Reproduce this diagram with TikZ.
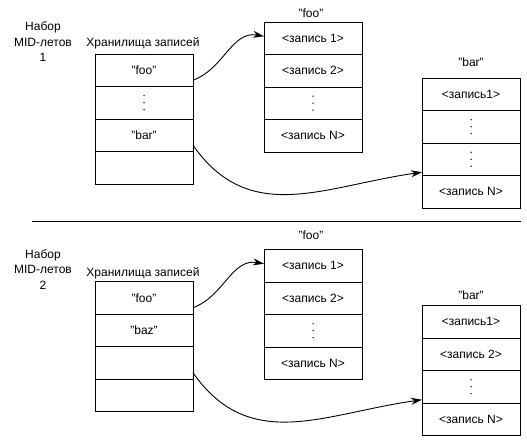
\documentclass[tikz,border=0pt]{standalone}
\usepackage{fontspec}
\setmainfont{Liberation Sans}
\usetikzlibrary{arrows.meta}
\tikzset{
  cell/.style={draw, line width=0.8pt, minimum width=98pt, minimum height=32.5pt,
    inner sep=0pt, outer sep=0pt, font=\fontsize{12}{14}\selectfont},
  dots/.style={cell, path picture={
    \foreach \k in {-1,0,1}
      \fill ([yshift=\k*7pt]path picture bounding box.center) circle (0.75pt);}},
  lbl/.style={inner sep=0pt, font=\fontsize{12}{15.5}\selectfont},
  link/.style={line width=0.9pt, -{Stealth[length=11pt,width=7pt]}}
}
\begin{document}
\begin{tikzpicture}[x=1pt,y=1pt]
		\useasboundingbox (0,0) rectangle (527,441);
		
		\begin{scope}
		\node[lbl,align=center] (set1) at (43,399) {Набор\\MID-летов\\1};
		\node[lbl] (st1) at (143,398) {Хранилища записей};
		\node[cell] (s1a) at (144,370.75) {"foo"};
		\node[dots] (s1b) at (144,338.25) {};
		\node[cell] (s1c) at (144,305.75) {"bar"};
		\node[cell] (s1d) at (144,273.25) {};
		\node[lbl] (foo1) at (311,428) {"foo"};
		\node[cell] (f1a) at (313,402.75) {<запись 1>};
		\node[cell] (f1b) at (313,370.25) {<запись 2>};
		\node[dots] (f1c) at (313,337.75) {};
		\node[cell] (f1d) at (313,305.25) {<запись N>};
		\node[lbl] (bar1) at (471,379) {"bar"};
		\node[cell] (b1a) at (471,346.75) {<запись1>};
		\node[dots] (b1b) at (471,314.25) {};
		\node[dots] (b1c) at (471,281.75) {};
		\node[cell] (b1d) at (471,249.25) {<запись N>};
		\draw[link] ([yshift=-10pt]s1a.east) to[out=20,in=170] ([yshift=2pt]f1a.west);
		\draw[link] ([yshift=-10pt]s1c.east) to[out=-55,in=188,looseness=1.1] ([yshift=-13pt]b1c.west);
		\end{scope}
		
		\coordinate (L) at (32,220);
		\coordinate (R) at (521,220);
		\draw[line width=0.9pt] (L)--(R);
		
		\begin{scope}[yshift=-227.5pt]
		\node[lbl,align=center] (set2) at (43,399) {Набор\\MID-летов\\2};
		\node[lbl] (st2) at (143,395.5) {Хранилища записей};
		\node[cell] (s2a) at (144,370.75) {"foo"};
		\node[cell] (s2b) at (144,338.25) {"baz"};
		\node[cell] (s2c) at (144,305.75) {};
		\node[cell] (s2d) at (144,273.25) {};
		\node[lbl] (foo2) at (311,433.5) {"foo"};
		\node[cell] (f2a) at (313,402.75) {<запись 1>};
		\node[cell] (f2b) at (313,370.25) {<запись 2>};
		\node[dots] (f2c) at (313,337.75) {};
		\node[cell] (f2d) at (313,305.25) {<запись N>};
		\node[lbl] (bar2) at (471,373.5) {"bar"};
		\node[cell] (b2a) at (471,346.75) {<запись1>};
		\node[cell] (b2b) at (471,314.25) {<запись 2>};
		\node[dots] (b2c) at (471,281.75) {};
		\node[cell] (b2d) at (471,249.25) {<запись N>};
		\draw[link] ([yshift=-10pt]s2a.east) to[out=20,in=170] ([yshift=2pt]f2a.west);
		\draw[link] ([yshift=-10pt]s2c.east) to[out=-55,in=188,looseness=1.1] ([yshift=-13pt]b2c.west);
		\end{scope}
\end{tikzpicture}
\end{document}
